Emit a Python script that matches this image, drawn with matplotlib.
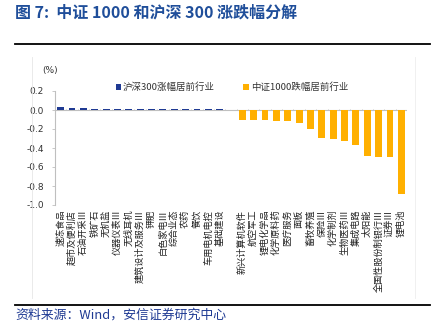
import matplotlib.pyplot as plt
import numpy as np
from matplotlib.lines import Line2D

plt.rcParams['font.family'] = ['Noto Sans CJK SC', 'DejaVu Sans']

# CSI 300 top gaining industries
hs300_names = ['速冻食品', '超市及便利店', '石油开采Ⅲ', '铁矿石', '无机盐', '仪器仪表Ⅲ',
               '无线耳机', '建筑设计及服务Ⅲ', '钾肥', '白色家电Ⅲ', '综合业态', '农药',
               '餐饮', '车用电机电控', '基础建设']
hs300_vals = [0.032, 0.024, 0.018, 0.015, 0.015, 0.015, 0.015, 0.012, 0.012,
              0.012, 0.012, 0.012, 0.011, 0.011, 0.011]

# CSI 1000 top falling industries
zz1000_names = ['新兴计算机软件', '航空军工', '锂电化学品', '化学原料药', '医疗服务', '面板',
                '畜牧养殖', '保险Ⅲ', '化学制剂', '生物医药Ⅲ', '集成电路', '太阳能',
                '全国性股份制银行Ⅲ', '证券Ⅲ', '锂电池']
zz1000_vals = [-0.10, -0.105, -0.11, -0.12, -0.12, -0.14, -0.20, -0.29, -0.31,
               -0.33, -0.37, -0.48, -0.49, -0.49, -0.88]

legend_labels = ['沪深300涨幅居前行业', '中证1000跌幅居前行业']
yticks = [0.2, 0.0, -0.2, -0.4, -0.6, -0.8, -1.0]

blue = '#1f3a93'
orange = '#ffb000'
grey = '#bfbfbf'

fig = plt.figure(figsize=(4.41, 3.35), dpi=100)
ax = fig.add_axes([55 / 441, 1 - 205 / 335, (407 - 55) / 441, (205 - 91) / 335])

x_blue = np.arange(len(hs300_vals))
x_orange = np.arange(len(zz1000_vals)) + len(hs300_vals) + 1
n_slots = len(hs300_vals) + 1 + len(zz1000_vals)

b1 = ax.bar(x_blue, hs300_vals, width=0.6, color=blue, zorder=3)
b2 = ax.bar(x_orange, zz1000_vals, width=0.6, color=orange, zorder=3)

ax.set_xlim(-0.5, n_slots - 0.5)
ax.set_ylim(-1.0, 0.2)

# zero line with category tick marks
ax.axhline(0, color=grey, lw=0.8, zorder=2)
bounds = np.arange(n_slots + 1) - 0.5
ax.vlines(bounds, 0, 0.012, color=grey, lw=0.6, zorder=2)

ax.set_xticks(np.concatenate([x_blue, x_orange]))
ax.set_xticklabels(hs300_names + zz1000_names, rotation=90, fontsize=6.6, color='#222222')
ax.tick_params(axis='x', length=0, pad=3.5)

ax.set_yticks(yticks)
ax.set_yticklabels(['%.1f' % v for v in yticks], fontsize=6.5, color='#333333',
                   family='DejaVu Sans')
ax.tick_params(axis='y', length=2, width=0.6, color=grey, pad=6)

for s in ['top', 'right', 'bottom']:
    ax.spines[s].set_visible(False)
ax.spines['left'].set_color(grey)
ax.spines['left'].set_linewidth(0.8)

ax.legend([b1, b2], legend_labels, ncol=2, frameon=False, fontsize=6.8,
          handlelength=0.6, handleheight=0.6, handletextpad=0.2, columnspacing=3.0,
          loc='center left', bbox_to_anchor=(52 / 352, (205 - 87) / 114),
          labelcolor='#333333')

fig.text(42 / 441, 1 - 70 / 335, '(%)', fontsize=6.5, color='#333333', va='center',
         family='DejaVu Sans')

# title, rules, frame, source
fig.text(15 / 441, 1 - 12 / 335, '图 7:  中证 1000 和沪深 300 涨跌幅分解', fontsize=11.5,
         fontweight='bold', color='#1f4e9a', va='center')
fig.add_artist(Line2D([15 / 441, 430 / 441], [1 - 44 / 335] * 2, color='black', lw=1.3))
fig.add_artist(Line2D([15 / 441, 430 / 441], [1 - 305 / 335] * 2, color='black', lw=1.3))
fig.add_artist(Line2D([32 / 441] * 2, [1 - 57 / 335, 1 - 298 / 335], color='#e6e6e6', lw=0.6))
fig.add_artist(Line2D([415 / 441] * 2, [1 - 57 / 335, 1 - 298 / 335], color='#eeeeee', lw=0.6))
fig.text(15 / 441, 1 - 315 / 335, '资料来源：Wind，安信证券研究中心', fontsize=9.3,
         style='italic', color='#1f3a93', va='center')

fig.savefig('out.png', dpi=100)
